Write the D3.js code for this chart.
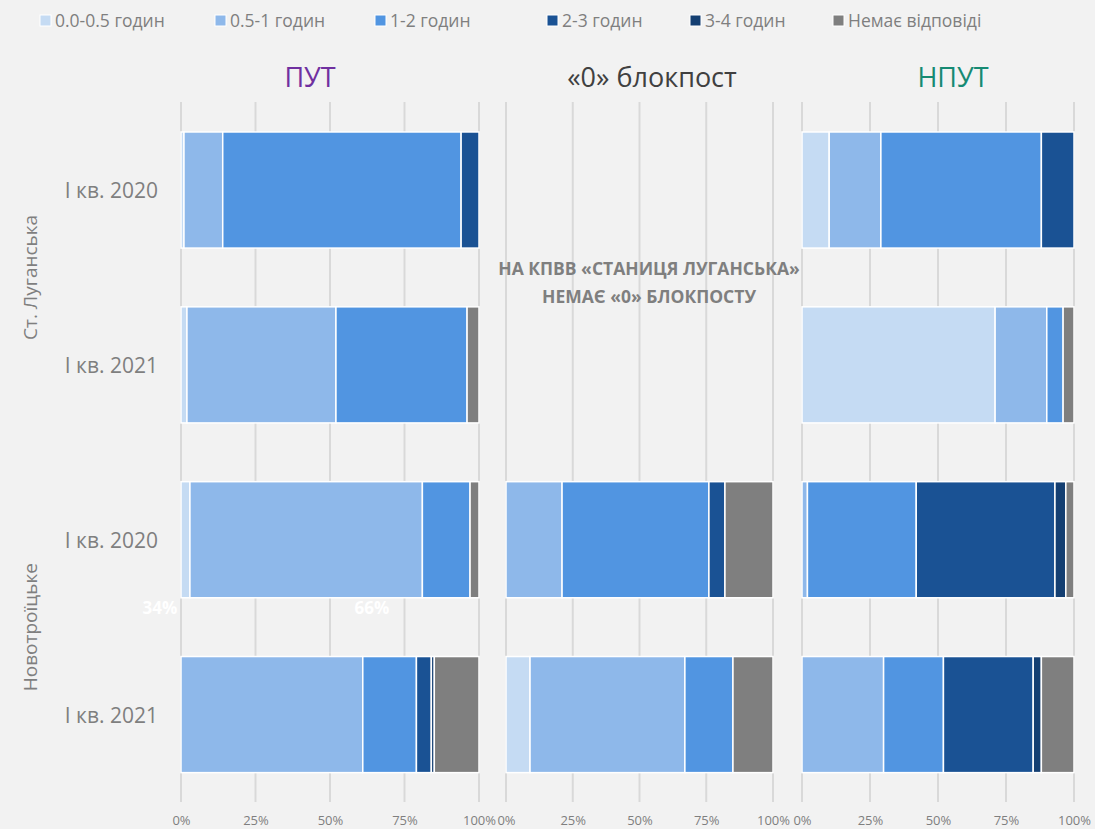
<!DOCTYPE html>
<html>
<head>
<meta charset="utf-8">
<script src="https://cdn.jsdelivr.net/npm/d3@7"></script>
<style>
  body { margin: 0; background: #f2f2f2; }
  svg { display: block; font-family: "Open Sans", "Noto Sans", sans-serif; }
</style>
</head>
<body>
<div id="chart"><svg></svg></div>
<script>
// categories
var keys = ["0.0-0.5 годин", "0.5-1 годин", "1-2 годин", "2-3 годин", "3-4 годин", "Немає відповіді"];
var colors = ["#c5dbf3", "#8eb8ea", "#5195e1", "#1a5294", "#143f72", "#7f7f7f"];
var rows = ["Ст. Луганська|І кв. 2020", "Ст. Луганська|І кв. 2021", "Новотроїцьке|І кв. 2020", "Новотроїцьке|І кв. 2021"];
var rowLabels = ["І кв. 2020", "І кв. 2021", "І кв. 2020", "І кв. 2021"];
var groups = ["Ст. Луганська", "Новотроїцьке"];
var panels = ["ПУТ", "«0» блокпост", "НПУТ"];
var panelColors = ["#7030a0", "#404040", "#168a73"];
var ticks = [0, 0.25, 0.5, 0.75, 1];

// values per row, in % for each key (null = no data)
var putValues = [
    [1, 13, 80, 6, 0, 0],
    [2, 50, 44, 0, 0, 4],
    [3, 78, 16, 0, 0, 3],
    [0, 61, 18, 5, 1, 15]
];
var zeroValues = [
    null,
    null,
    [0, 21, 55, 6, 0, 18],
    [9, 58, 18, 0, 0, 15]
];
var nputValues = [
    [10, 19, 59, 12, 0, 0],
    [71, 19, 6, 0, 0, 4],
    [0, 2, 40, 51, 4, 3],
    [0, 30, 22, 33, 3, 12]
];
var allValues = [putValues, zeroValues, nputValues];

var svg = d3.select("#chart svg")
    .attr("width", 1095)
    .attr("height", 829);

svg.append("rect").attr("width", 1095).attr("height", 829).attr("fill", "#f2f2f2");

var panelRanges = [[181, 479], [506, 773], [802, 1074]];
var titleX = [310, 652, 953];

var y = d3.scaleBand()
    .domain(rows)
    .range([102.6, 802])
    .paddingInner(0.336)
    .paddingOuter(0.168);

// legend
var legendX = [40, 215, 375, 547, 690, 833];
var legend = svg.append("g").attr("class", "legend");
keys.forEach(function(k, i) {
    var g = legend.append("g").attr("transform", "translate(" + legendX[i] + ",14)");
    g.append("rect")
        .attr("width", 11).attr("height", 11).attr("y", 1)
        .attr("fill", colors[i])
        .attr("stroke", "#fff").attr("stroke-width", 1);
    g.append("text")
        .attr("x", 15).attr("y", 13)
        .attr("fill", "#7f7f7f")
        .style("font-size", "17.5px")
        .text(k);
});

panels.forEach(function(p, pi) {
    var x = d3.scaleLinear().domain([0, 1]).range(panelRanges[pi]);
    var g = svg.append("g").attr("class", "panel");

    // gridlines
    g.selectAll("line.grid")
        .data(ticks)
        .enter().append("line")
        .attr("class", "grid")
        .attr("x1", function(d) { return x(d); })
        .attr("x2", function(d) { return x(d); })
        .attr("y1", 102)
        .attr("y2", 802)
        .attr("stroke", "#d9d9d9")
        .attr("stroke-width", 2);

    // x axis labels
    var axis = g.append("g")
        .attr("transform", "translate(0,802)")
        .call(d3.axisBottom(x).tickValues(ticks).tickFormat(d3.format(".0%")).tickSize(0).tickPadding(14));
    axis.select(".domain").remove();
    axis.selectAll("text")
        .attr("fill", "#7f7f7f")
        .style("font-size", "13px")
        .style("font-family", "'Open Sans', sans-serif");

    // title
    g.append("text")
        .attr("x", titleX[pi])
        .attr("y", 87)
        .attr("text-anchor", "middle")
        .attr("fill", panelColors[pi])
        .style("font-size", "27px")
        .text(p);

    // stacked bars
    var vals = allValues[pi];
    rows.forEach(function(r, ri) {
        if (!vals[ri]) return;
        var obj = {};
        keys.forEach(function(k, ki) { obj[k] = vals[ri][ki] / 100; });
        var stacked = d3.stack().keys(keys)([obj]);
        g.append("g").selectAll("rect")
            .data(stacked.filter(function(s) { return s[0][1] - s[0][0] > 0; }))
            .enter().append("rect")
            .attr("x", function(s) { return x(s[0][0]); })
            .attr("width", function(s) { return x(s[0][1]) - x(s[0][0]); })
            .attr("y", y(r))
            .attr("height", y.bandwidth())
            .attr("fill", function(s) { return colors[keys.indexOf(s.key)]; })
            .attr("stroke", "#ffffff")
            .attr("stroke-width", 1.5);
    });
});

// note in the empty zero-blockpost cells
var note = svg.append("g")
    .attr("fill", "#7f7f7f")
    .style("font-weight", "bold")
    .style("font-size", "17.5px")
    .attr("text-anchor", "middle");
note.append("text").attr("x", 649).attr("y", 275).text("НА КПВВ «СТАНИЦЯ ЛУГАНСЬКА»");
note.append("text").attr("x", 649).attr("y", 303).text("НЕМАЄ «0» БЛОКПОСТУ");

// stray white labels
svg.append("text").attr("x", 160).attr("y", 614).attr("text-anchor", "middle")
    .attr("fill", "#ffffff").style("font-weight", "bold").style("font-size", "17px").text("34%");
svg.append("text").attr("x", 372).attr("y", 614).attr("text-anchor", "middle")
    .attr("fill", "#ffffff").style("font-weight", "bold").style("font-size", "17px").text("66%");

// row labels
svg.append("g").selectAll("text")
    .data(rows)
    .enter().append("text")
    .attr("x", 158)
    .attr("y", function(d) { return y(d) + y.bandwidth() / 2 + 8; })
    .attr("text-anchor", "end")
    .attr("fill", "#7f7f7f")
    .style("font-size", "21px")
    .text(function(d, i) { return rowLabels[i]; });

// group labels
groups.forEach(function(gr) {
    var rs = rows.filter(function(r) { return r.split("|")[0] === gr; });
    var cy = (y(rs[0]) + y(rs[rs.length - 1]) + y.bandwidth()) / 2;
    svg.append("text")
        .attr("transform", "translate(37," + cy + ") rotate(-90)")
        .attr("text-anchor", "middle")
        .attr("fill", "#7f7f7f")
        .style("font-size", "19px")
        .text(gr);
});
</script>
</body>
</html>
